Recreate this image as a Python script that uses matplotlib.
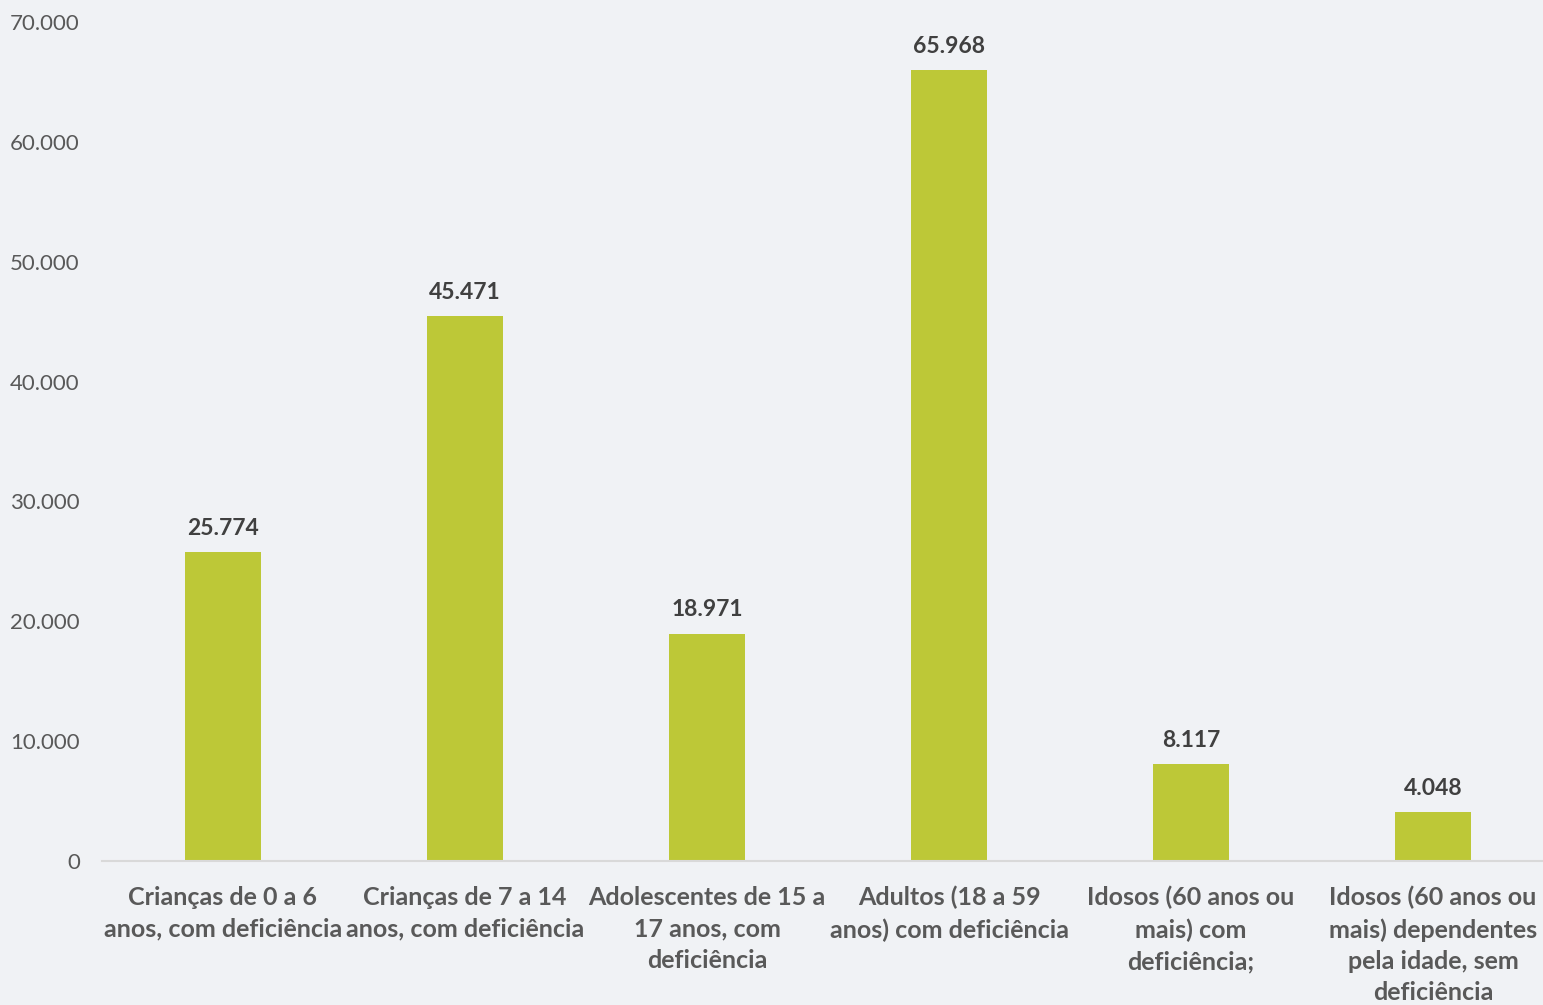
import matplotlib.pyplot as plt
import numpy as np

# dados
categorias = [
    "Crianças de 0 a 6\nanos, com deficiência",
    "Crianças de 7 a 14\nanos, com deficiência",
    "Adolescentes de 15 a\n17 anos, com\ndeficiência",
    "Adultos (18 a 59\nanos) com deficiência",
    "Idosos (60 anos ou\nmais) com\ndeficiência;",
    "Idosos (60 anos ou\nmais) dependentes\npela idade, sem\ndeficiência",
]
valores = [25774, 45471, 18971, 65968, 8117, 4048]
yticks = [0, 10000, 20000, 30000, 40000, 50000, 60000, 70000]

fundo = "#F0F2F5"
verde = "#BDC837"

plt.rcParams['font.family'] = ['Lato', 'DejaVu Sans']

fig = plt.figure(figsize=(15.43, 10.05), dpi=100, facecolor=fundo)
W, H = 1543, 1005
ax = fig.add_axes([102 / W, (H - 861) / H, 1452 / W, 839 / H])
ax.set_facecolor(fundo)

x = np.arange(len(categorias))
ax.bar(x, valores, width=0.314, color=verde, zorder=2)

for xi, v in zip(x, valores):
    rotulo = f"{v:,}".replace(",", ".")
    ax.annotate(rotulo, (xi, v), xytext=(0, 9.5), textcoords="offset points",
                ha="center", va="bottom", fontsize=16.5, fontweight="bold",
                color="#404040")

ax.set_xlim(-0.5, len(categorias) - 0.5)
ax.set_ylim(0, 70000)
ax.set_yticks(yticks)
ax.set_yticklabels([f"{t:,}".replace(",", ".") for t in yticks])
ax.set_xticks(x)
ax.set_xticklabels(categorias, fontsize=18, fontweight="bold",
                   color="#595959", linespacing=1.44)

ax.tick_params(axis="y", length=0, pad=16, labelsize=16, labelcolor="#595959")
ax.tick_params(axis="x", length=0, pad=18)

for s in ["top", "right", "left"]:
    ax.spines[s].set_visible(False)
ax.spines["bottom"].set_color("#D9D9D9")
ax.spines["bottom"].set_linewidth(1.5)

fig.savefig("out.png", dpi=100, facecolor=fundo)
